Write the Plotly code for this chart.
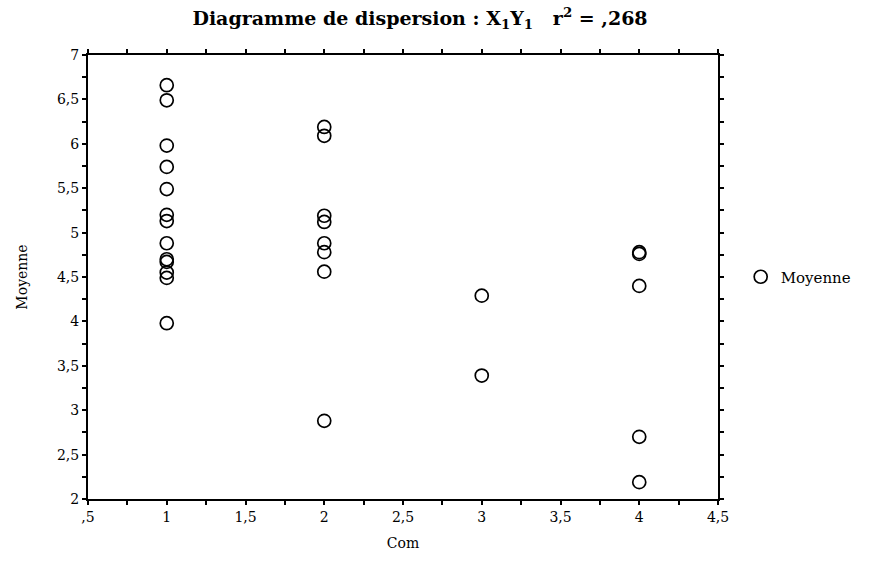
import plotly.graph_objects as go

# Observations: group code (Com) and mean score (Moyenne)
com = [1, 1, 1, 1, 1, 1, 1, 1, 1, 1, 1, 1, 1,
       2, 2, 2, 2, 2, 2, 2, 2,
       3, 3,
       4, 4, 4, 4, 4]
moyenne = [6.66, 6.49, 5.98, 5.74, 5.49, 5.2, 5.13, 4.88, 4.7, 4.67, 4.55, 4.49, 3.98,
           6.19, 6.09, 5.19, 5.12, 4.88, 4.78, 4.56, 2.88,
           4.29, 3.39,
           4.78, 4.76, 4.4, 2.7, 2.19]

x_tickvals = [0.5, 1, 1.5, 2, 2.5, 3, 3.5, 4, 4.5]
x_ticktext = [",5", "1", "1,5", "2", "2,5", "3", "3,5", "4", "4,5"]
y_tickvals = [2, 2.5, 3, 3.5, 4, 4.5, 5, 5.5, 6, 6.5, 7]
y_ticktext = ["2", "2,5", "3", "3,5", "4", "4,5", "5", "5,5", "6", "6,5", "7"]

FONT = "DejaVu Serif"

fig = go.Figure()
fig.add_trace(go.Scatter(
    x=com, y=moyenne, mode="markers", name="Moyenne",
    marker=dict(symbol="circle-open", size=13, color="black",
                line=dict(color="black", width=1.7)),
))

axis_common = dict(
    showgrid=False, zeroline=False, showline=True, linecolor="black",
    linewidth=2, mirror="ticks", ticks="outside", ticklen=4, tickwidth=2,
    tickcolor="black",
    tickfont=dict(family=FONT, size=14, color="black"),
    minor=dict(ticks="outside", ticklen=4, tickwidth=2, tickcolor="black",
               dtick=0.25, showgrid=False),
)

fig.update_xaxes(range=[0.5, 4.5], tickmode="array", tickvals=x_tickvals,
                 ticktext=x_ticktext,
                 title=dict(text="Com", standoff=14,
                            font=dict(family=FONT, size=14, color="black")),
                 **axis_common)
fig.update_yaxes(range=[2, 7], tickmode="array", tickvals=y_tickvals,
                 ticktext=y_ticktext,
                 title=dict(text="Moyenne", standoff=26,
                            font=dict(family=FONT, size=14, color="black")),
                 **axis_common)

fig.update_layout(
    width=869, height=563,
    margin=dict(l=88, r=151, t=55, b=64),
    paper_bgcolor="white", plot_bgcolor="white",
    title=dict(text="<b>Diagramme de dispersion : X<sub>1</sub>Y<sub>1</sub>"
                    "   r<sup>2</sup> = ,268</b>",
               x=0.527, xref="paper", xanchor="center",
               y=1 - 18 / 563, yref="container", yanchor="middle",
               font=dict(family=FONT, size=19, color="black")),
    showlegend=True,
    legend=dict(x=1.036, xanchor="left", y=0.5, yanchor="middle",
                font=dict(family=FONT, size=15, color="black"),
                bgcolor="rgba(0,0,0,0)"),
)

fig.write_html("out.html")
